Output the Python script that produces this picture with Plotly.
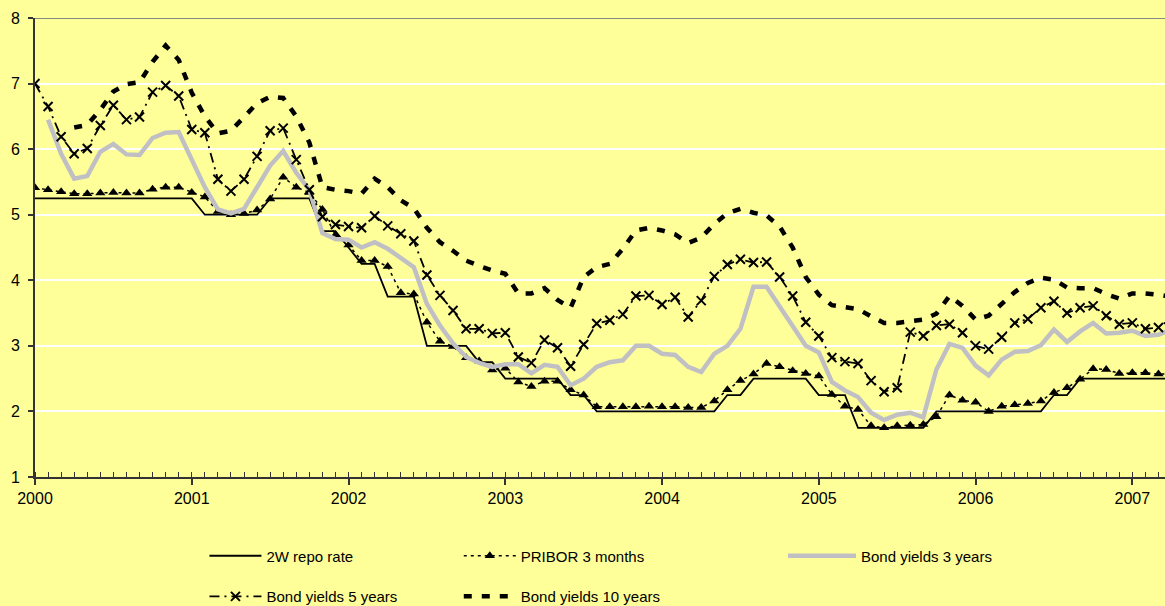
import plotly.graph_objects as go

# month index 0 = Jan 2000
months = list(range(88))
year_ticks = [0, 12, 24, 36, 48, 60, 72, 84]
year_labels = ["2000", "2001", "2002", "2003", "2004", "2005", "2006", "2007"]

repo_2w = [5.25]*13 + [5.00]*5 + [5.25]*4 + [4.75]*2 + [4.50] + [4.25]*2 + [3.75]*3 + \
          [3.00]*4 + [2.75]*2 + [2.50]*5 + [2.25]*2 + [2.00]*10 + [2.25]*2 + [2.50]*5 + \
          [2.25]*3 + [1.75]*6 + [2.00]*9 + [2.25]*2 + [2.50]*8

pribor_3m = [5.41, 5.38, 5.35, 5.32, 5.32, 5.33, 5.34, 5.33, 5.33, 5.39, 5.42, 5.42,
             5.34, 5.27, 5.05, 5.00, 5.02, 5.07, 5.24, 5.57, 5.42, 5.34, 5.08, 4.69,
             4.54, 4.30, 4.30, 4.21, 3.81, 3.79, 3.36, 3.07, 2.99, 2.82, 2.77, 2.63,
             2.66, 2.45, 2.38, 2.46, 2.46, 2.33, 2.25, 2.07, 2.07, 2.07, 2.07, 2.08,
             2.07, 2.07, 2.06, 2.06, 2.16, 2.33, 2.47, 2.57, 2.73, 2.68, 2.62, 2.58,
             2.54, 2.26, 2.08, 2.03, 1.78, 1.75, 1.78, 1.79, 1.80, 1.92, 2.25, 2.17,
             2.14, 2.00, 2.08, 2.10, 2.12, 2.16, 2.29, 2.36, 2.49, 2.65, 2.64, 2.58,
             2.59, 2.59, 2.57, 2.57]

bond_3y = [None, 6.45, 5.93, 5.55, 5.59, 5.96, 6.08, 5.92, 5.91, 6.17, 6.25, 6.26,
           5.85, 5.42, 5.08, 5.02, 5.09, 5.42, 5.75, 5.97, 5.64, 5.38, 4.72, 4.63,
           4.62, 4.50, 4.58, 4.48, 4.35, 4.20, 3.64, 3.31, 3.04, 2.83, 2.74, 2.68,
           2.72, 2.72, 2.58, 2.71, 2.68, 2.40, 2.50, 2.68, 2.75, 2.78, 3.00, 3.00,
           2.88, 2.86, 2.68, 2.60, 2.88, 3.00, 3.26, 3.90, 3.90, 3.60, 3.32, 3.00,
           2.90, 2.45, 2.32, 2.22, 1.98, 1.87, 1.95, 1.98, 1.91, 2.64, 3.03, 2.97,
           2.70, 2.55, 2.79, 2.91, 2.92, 3.01, 3.25, 3.06, 3.22, 3.35, 3.19, 3.20,
           3.23, 3.15, 3.17, 3.25]

bond_5y = [7.00, 6.65, 6.19, 5.93, 6.01, 6.36, 6.67, 6.45, 6.49, 6.87, 6.97, 6.81,
           6.30, 6.25, 5.54, 5.36, 5.54, 5.89, 6.28, 6.32, 5.84, 5.38, 4.97, 4.85,
           4.82, 4.80, 4.98, 4.83, 4.71, 4.60, 4.08, 3.77, 3.54, 3.26, 3.26, 3.19,
           3.20, 2.83, 2.74, 3.09, 2.97, 2.69, 3.02, 3.34, 3.39, 3.48, 3.76, 3.77,
           3.63, 3.74, 3.44, 3.69, 4.06, 4.24, 4.32, 4.27, 4.28, 4.05, 3.76, 3.36,
           3.15, 2.82, 2.76, 2.73, 2.47, 2.30, 2.36, 3.21, 3.15, 3.31, 3.33, 3.20,
           3.00, 2.95, 3.13, 3.35, 3.41, 3.58, 3.68, 3.50, 3.58, 3.61, 3.46, 3.33,
           3.35, 3.26, 3.28, 3.42]

bond_10y = [None, None, None, 6.33, 6.37, 6.60, 6.88, 6.99, 7.02, 7.33, 7.58, 7.36,
            6.86, 6.50, 6.24, 6.28, 6.50, 6.70, 6.80, 6.78, 6.50, 6.10, 5.42, 5.38,
            5.36, 5.32, 5.55, 5.42, 5.22, 5.10, 4.80, 4.58, 4.45, 4.30, 4.22, 4.15,
            4.10, 3.80, 3.80, 3.88, 3.70, 3.58, 4.05, 4.20, 4.25, 4.48, 4.76, 4.80,
            4.76, 4.70, 4.57, 4.65, 4.86, 5.02, 5.09, 5.03, 4.99, 4.82, 4.50, 4.05,
            3.78, 3.62, 3.59, 3.56, 3.45, 3.35, 3.35, 3.37, 3.40, 3.49, 3.76, 3.61,
            3.40, 3.46, 3.63, 3.82, 3.96, 4.04, 4.01, 3.89, 3.88, 3.88, 3.79, 3.72,
            3.80, 3.80, 3.78, 3.75]

FONT = "Liberation Sans, Arial, sans-serif"
BG = "#FFFF99"

fig = go.Figure()
fig.add_trace(go.Scatter(x=months, y=repo_2w, name="2W repo rate", mode="lines",
                         line=dict(color="black", width=1.8), legend="legend"))
fig.add_trace(go.Scatter(x=months, y=pribor_3m, name="PRIBOR 3 months", mode="lines+markers",
                         line=dict(color="black", width=1.5, dash="3px,4px"),
                         marker=dict(symbol="triangle-up", size=9, color="black"),
                         legend="legend2"))
fig.add_trace(go.Scatter(x=months, y=bond_3y, name="Bond yields 3 years", mode="lines",
                         line=dict(color="#C0C0C4", width=4.5), legend="legend3"))
fig.add_trace(go.Scatter(x=months, y=bond_5y, name="Bond yields 5 years", mode="lines+markers",
                         line=dict(color="black", width=1.8, dash="10px,5px,2px,5px"),
                         marker=dict(symbol="x-thin", size=9, color="black",
                                     line=dict(color="black", width=2)),
                         legend="legend4"))
fig.add_trace(go.Scatter(x=months, y=bond_10y, name="Bond yields 10 years", mode="lines",
                         line=dict(color="black", width=4.5, dash="8px,10px"),
                         legend="legend5"))

def leg(x, y, iw=52):
    return dict(x=x, y=y, xref="container", yref="container",
                xanchor="left", yanchor="middle", bgcolor="rgba(0,0,0,0)",
                borderwidth=0, font=dict(family=FONT, size=15, color="black"),
                itemwidth=iw)

row1, row2 = 0.0825, 0.0155
fig.update_layout(
    width=1165, height=606,
    margin=dict(l=35, r=0, t=18, b=129, autoexpand=False),
    paper_bgcolor=BG, plot_bgcolor=BG,
    font=dict(family=FONT, size=15, color="black"),
    showlegend=True,
    legend=leg(0.1755, row1),
    legend2=leg(0.3938, row1),
    legend3=leg(0.6721, row1, 68),
    legend4=leg(0.1755, row2),
    legend5=leg(0.3938, row2),
    xaxis=dict(range=[0, 86.5], tickmode="array", tickvals=year_ticks, ticktext=year_labels,
               ticks="outside", ticklen=6, tickwidth=1.5, tickcolor="#333333",
               showgrid=False, zeroline=False, showline=True, linecolor="#333333",
               linewidth=2, tickfont=dict(size=16),
               minor=dict(tickmode="array", tickvals=months, ticks="inside",
                          ticklen=5, tickwidth=1.2, tickcolor="#333333", showgrid=False)),
    yaxis=dict(range=[1, 8], tickmode="array", tickvals=[1, 2, 3, 4, 5, 6, 7, 8],
               ticks="outside", ticklen=5, tickwidth=1.5, tickcolor="#333333",
               showgrid=True, gridcolor="white", gridwidth=2, zeroline=False,
               showline=True, linecolor="#333333", linewidth=2,
               tickfont=dict(size=16), ticklabelstandoff=5),
)
fig.add_shape(type="line", xref="paper", yref="y", x0=0, x1=1, y0=8, y1=8,
              line=dict(color="#888888", width=2), layer="above")

fig.write_html("out.html", config={"displayModeBar": False},
               post_script="document.body.style.margin='0';document.body.style.background='#FFFF99';")
